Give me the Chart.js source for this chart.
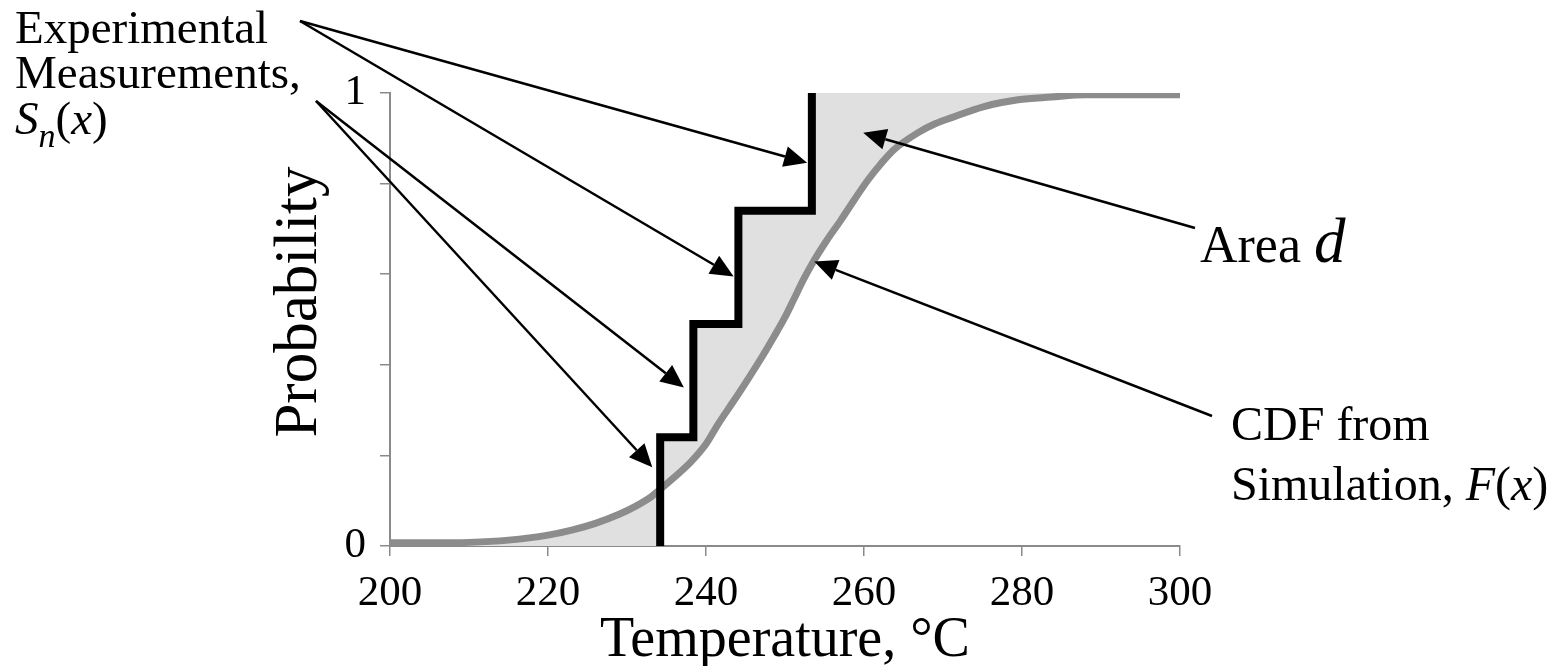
<!DOCTYPE html>
<html>
<head>
<meta charset="utf-8">
<script src="https://cdn.jsdelivr.net/npm/chart.js@4.4.1/dist/chart.umd.min.js"></script>
<style>
  html, body { margin: 0; padding: 0; background: #fff; }
  #wrap { width: 1555px; height: 666px; }
</style>
</head>
<body>
<div id="wrap"><canvas id="cdfChart" width="1555" height="666"></canvas></div>
<script>
// simulated CDF F(x)
const cdfTemps = [200, 205, 210, 215, 220, 223, 226, 229, 231, 233, 234.2, 236, 238, 240, 241.5, 243.5,
  245.3, 247, 248.6, 250, 251.1, 252.4, 253.6, 255.3, 257.1, 258.8, 260.5, 262.2, 263.8, 266.8, 269,
  271, 275.2, 279.5, 283.7, 288, 300];
const cdfProbs = [0.007, 0.007, 0.008, 0.013, 0.024, 0.035, 0.05, 0.07, 0.087, 0.108, 0.125, 0.152, 0.184,
  0.225, 0.268, 0.32, 0.368, 0.415, 0.462, 0.505, 0.544, 0.59, 0.628, 0.675, 0.72, 0.765, 0.808, 0.845,
  0.875, 0.912, 0.932, 0.945, 0.97, 0.985, 0.991, 0.996, 0.996];

// empirical step function S_n(x): 4 measurements
const stepTemps = [234.2, 238.4, 244.1, 253.4];
const stepProbs = [0.24, 0.49, 0.74, 1.0];

const xRange = [200, 300];
const yLabelled = [0, 1];

const FONT = "'Liberation Serif', 'Times New Roman', serif";

function el(id) {
  return document.getElementById(id);
}

function staircase(xs, ys, x0, x1) {
  const pts = [];
  if (x0 != null) pts.push({ x: x0, y: 0 });
  let prev = 0;
  xs.forEach((x, i) => {
    pts.push({ x, y: prev });
    pts.push({ x, y: ys[i] });
    prev = ys[i];
  });
  if (x1 != null) pts.push({ x: x1, y: prev });
  return pts;
}

const cdfPoints = cdfTemps.map((x, i) => ({ x, y: cdfProbs[i] }));

// callouts: tail in page pixels, head in data units
const arrows = [
  { from: [300, 21], to: [252.8, 0.846] },
  { from: [300, 21], to: [243.5, 0.595] },
  { from: [316, 101], to: [237.2, 0.35] },
  { from: [316, 101], to: [233.2, 0.174] },
  { from: [1195, 228], to: [259.9, 0.912] },
  { from: [1212, 416], to: [253.7, 0.628] },
];

function drawArrow(ctx, x1, y1, x2, y2) {
  const ang = Math.atan2(y2 - y1, x2 - x1);
  const hl = 23, hw = 10.5;
  const bx = x2 - hl * Math.cos(ang), by = y2 - hl * Math.sin(ang);
  ctx.beginPath();
  ctx.moveTo(x1, y1);
  ctx.lineTo(bx, by);
  ctx.stroke();
  ctx.beginPath();
  ctx.moveTo(x2, y2);
  ctx.lineTo(bx + hw * Math.sin(ang), by - hw * Math.cos(ang));
  ctx.lineTo(bx - hw * Math.sin(ang), by + hw * Math.cos(ang));
  ctx.closePath();
  ctx.fill();
}

// runs: [text, italic, size, dy]
function drawRuns(ctx, x, y, runs) {
  runs.forEach(([t, it, size, dy]) => {
    ctx.font = `${it ? "italic " : ""}${size}px ${FONT}`;
    ctx.fillText(t, x, y + (dy || 0));
    x += ctx.measureText(t).width;
  });
}

const annotations = {
  id: "annotations",
  afterDraw(chart) {
    const { ctx, scales } = chart;
    ctx.save();
    ctx.fillStyle = "#000";
    ctx.strokeStyle = "#000";
    ctx.lineWidth = 2.5;
    arrows.forEach(a => {
      drawArrow(ctx, a.from[0], a.from[1], scales.x.getPixelForValue(a.to[0]), scales.y.getPixelForValue(a.to[1]));
    });

    ctx.textAlign = "left";
    ctx.textBaseline = "alphabetic";
    drawRuns(ctx, 15, 43, [["Experimental", false, 47]]);
    drawRuns(ctx, 15, 88, [["Measurements,", false, 47]]);
    drawRuns(ctx, 15, 134, [["S", true, 47], ["n", true, 34, 13], ["(", false, 47], ["x", true, 47], [")", false, 47]]);

    drawRuns(ctx, 1200, 262, [["Area ", false, 52], ["d", true, 63]]);
    drawRuns(ctx, 1231, 440, [["CDF from", false, 48]]);
    drawRuns(ctx, 1231, 500, [["Simulation, ", false, 48], ["F", true, 48], ["(", false, 48], ["x", true, 48], [")", false, 48]]);

    // y axis title
    ctx.translate(300, 302);
    ctx.rotate(-Math.PI / 2);
    ctx.textAlign = "center";
    ctx.textBaseline = "middle";
    ctx.font = `61px ${FONT}`;
    ctx.fillText("Probability", 0, 0);
    ctx.restore();
  },
};

const axisGrey = "#8a8a8a";

new Chart(el("cdfChart"), {
  type: "line",
  data: {
    datasets: [
      {
        label: "Area d",
        data: staircase(stepTemps, stepProbs, xRange[0], xRange[1]),
        borderWidth: 0,
        pointRadius: 0,
        fill: { target: 1, above: "#e0e0e0", below: "#e0e0e0" },
        order: 3,
      },
      {
        label: "F(x)",
        data: cdfPoints,
        borderColor: "#8c8c8c",
        borderWidth: 7,
        pointRadius: 0,
        cubicInterpolationMode: "monotone",
        fill: false,
        order: 2,
      },
      {
        label: "Sn(x)",
        data: staircase(stepTemps, stepProbs),
        borderColor: "#000",
        borderWidth: 8,
        borderJoinStyle: "miter",
        borderCapStyle: "butt",
        pointRadius: 0,
        tension: 0,
        fill: false,
        order: 1,
      },
    ],
  },
  options: {
    responsive: false,
    animation: false,
    devicePixelRatio: 1,
    layout: { padding: { top: 93, right: 375, bottom: 0, left: 0 } },
    plugins: {
      legend: { display: false },
      tooltip: { enabled: false },
      filler: { drawTime: "beforeDatasetsDraw" },
    },
    scales: {
      x: {
        type: "linear",
        min: xRange[0],
        max: xRange[1],
        afterFit(scale) { scale.height = 120; },
        ticks: { stepSize: 20, color: "#000", font: { family: FONT, size: 43 }, padding: 12, maxRotation: 0 },
        grid: { drawOnChartArea: false, tickLength: 10, color: axisGrey, lineWidth: 1.5 },
        border: { color: axisGrey, width: 2 },
        title: {
          display: true,
          text: "Temperature, °C",
          color: "#000",
          font: { family: FONT, size: 56, lineHeight: 1 },
          padding: { top: 0, bottom: -3 },
        },
      },
      y: {
        min: 0,
        max: 1,
        afterFit(scale) { scale.width = 390; },
        ticks: {
          stepSize: 0.2,
          color: "#000",
          font: { family: FONT, size: 43 },
          padding: 14,
          callback: v => (yLabelled.some(t => Math.abs(t - v) < 1e-9) ? String(Math.round(v)) : ""),
        },
        grid: { drawOnChartArea: false, tickLength: 10, color: axisGrey, lineWidth: 1.5 },
        border: { color: axisGrey, width: 2 },
      },
    },
  },
  plugins: [annotations],
});
</script>
</body>
</html>
